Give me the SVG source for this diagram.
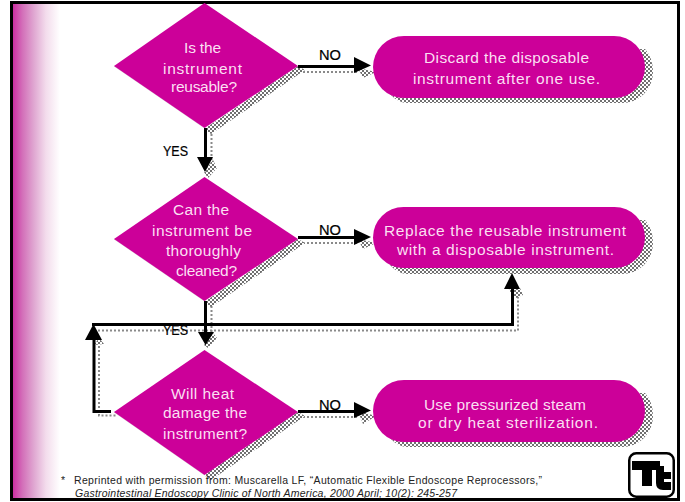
<svg xmlns="http://www.w3.org/2000/svg" width="685" height="502" viewBox="0 0 685 502">
<style>
.t{font-family:"Liberation Sans",Arial,sans-serif;font-size:15.500px;fill:#fbdff2}
.l{font-family:"Liberation Sans",Arial,sans-serif;font-size:15px;fill:#000;stroke:#000;stroke-width:.2}
.f{font-family:"Liberation Sans",Arial,sans-serif;font-size:10.500px;fill:#222}
.i{font-style:italic}
.node{fill:#cc0099}
.shadow{fill:url(#chk)}
.halo{fill:none;stroke:#e0e0e0;stroke-width:1}
.c{fill:none;stroke:#000;stroke-width:3}
.s{fill:none;stroke:#8a8a8a;stroke-width:2;stroke-dasharray:2 2}
</style>
<defs>
<pattern id="chk" width="4" height="4" patternUnits="userSpaceOnUse">
<rect width="4" height="4" fill="#fff"/><rect width="2" height="2" fill="#707070"/><rect x="2" y="2" width="2" height="2" fill="#707070"/>
</pattern>
<linearGradient id="side" x1="0" x2="1" y1="0" y2="0">
<stop offset="0" stop-color="#cc2fa3"/><stop offset=".2" stop-color="#d36fb9"/><stop offset=".45" stop-color="#e0a8d2"/><stop offset=".7" stop-color="#f3dcec"/><stop offset="1" stop-color="#fff"/>
</linearGradient>
<path id="pillshadow" class="shadow" d="M636 13H645Q653 22 653 36A31 31 0 0 1 622 67H408Q398 67 390 58Z"/>
<path id="diashadow" class="shadow" d="M298 0L305 4L211 68L204 63Z"/>
</defs>
<rect width="685" height="502" fill="#fff"/>
<rect x="13" y="4" width="47" height="495" fill="url(#side)"/>
<rect x="11.500" y="2.500" width="667" height="497" fill="none" stroke="#000" stroke-width="3"/>

<g id="connector-shadows">
<path class="s" d="M303 72H358M211.500 134V165M303 243H358M211.500 306V338M98 330.500H518V292M99 342V415.500H116M303 417H358"/>
<path class="shadow" d="M358 68L376 72L363 78ZM204 172L213 160L217 168L208 178ZM358 239L376 243L363 249ZM204 345L213 333L217 338L208 348ZM94 345L99 338L104 344ZM508 290L520 288L523 295L516 298ZM358 411L376 416L363 424Z"/>
</g>

<g id="node-q1"><use href="#diashadow" y="66"/><path class="halo" d="M114 66L204.500 128"/><path class="node" d="M204.500 3L298 66L204.500 128L114 66Z"/>
<text class="t" x="184" y="52.500" textLength="37">Is the</text><text class="t" x="163" y="74" textLength="79">instrument</text><text class="t" x="171" y="92" textLength="66">reusable?</text></g>

<g id="node-q2"><use href="#diashadow" y="239"/><path class="halo" d="M114 239L204.500 301"/><path class="node" d="M204.500 177L298 239L204.500 301L114 239Z"/>
<text class="t" x="173" y="215" textLength="56">Can the</text><text class="t" x="152" y="236" textLength="100">instrument be</text><text class="t" x="166" y="256" textLength="75">thoroughly</text><text class="t" x="176" y="276" textLength="61">cleaned?</text></g>

<g id="node-q3"><use href="#diashadow" y="412"/><path class="halo" d="M114 412L204.500 475"/><path class="node" d="M204.500 350L298 412L204.500 475L114 412Z"/>
<text class="t" x="171" y="399" textLength="63">Will heat</text><text class="t" x="163" y="418" textLength="84">damage the</text><text class="t" x="163" y="439" textLength="84">instrument?</text></g>

<g id="node-a1"><use href="#pillshadow" y="36"/><rect class="node" x="373" y="36" width="272" height="62" rx="31"/>
<text class="t" x="424" y="63" textLength="165">Discard the disposable</text><text class="t" x="413" y="84" textLength="187">instrument after one use.</text></g>

<g id="node-a2"><use href="#pillshadow" y="207"/><rect class="node" x="373" y="207" width="272" height="61" rx="30.500"/>
<text class="t" x="384" y="236" textLength="242">Replace the reusable instrument</text><text class="t" x="397" y="255" textLength="217">with a disposable instrument.</text></g>

<g id="node-a3"><use href="#pillshadow" y="380"/><rect class="node" x="373" y="380" width="272" height="62" rx="31"/>
<text class="t" x="424" y="410" textLength="162">Use pressurized steam</text><text class="t" x="418" y="428" textLength="180">or dry heat sterilization.</text></g>

<g id="connectors">
<path class="c" d="M298 66.500H356M205.500 128V159M298 237.500H356M205.500 301V334M92 324.500H512.500V288M111 411.500H94V338M298 411.500H356"/>
<path d="M354 57L371 65.500L354 73ZM197 157H213L205 172ZM354 229L371 237L354 245ZM198 332H214L205.500 345ZM85 340H102L93.500 324ZM504 289H520L512 273ZM354 402L371 410.500L354 418Z"/>
</g>

<g id="labels">
<text class="l" x="319" y="60" textLength="22" lengthAdjust="spacingAndGlyphs">NO</text><text class="l" x="319" y="235" textLength="22" lengthAdjust="spacingAndGlyphs">NO</text><text class="l" x="319" y="410" textLength="22" lengthAdjust="spacingAndGlyphs">NO</text>
<text class="l" x="163" y="156" textLength="25" lengthAdjust="spacingAndGlyphs">YES</text><text class="l" x="163" y="335" textLength="25" lengthAdjust="spacingAndGlyphs">YES</text>
</g>

<g id="footnote">
<text class="f" x="61" y="484">*</text>
<text class="f" x="74" y="484" textLength="468">Reprinted with permission from: Muscarella LF, “Automatic Flexible Endoscope Reprocessors,”</text>
<text class="f i" x="75" y="497" textLength="382">Gastrointestinal Endoscopy Clinic of North America, 2000 April; 10(2): 245-257</text>
</g>

<g id="logo">
<rect x="629.250" y="453.250" width="44.500" height="43.500" rx="7" fill="#fff" stroke="#000" stroke-width="2.500"/>
<path d="M632 461H660V470H652V486H642V470H632Z" fill="#000"/>
<path d="M656 466H664V472H671V479H664V482H671V490H663Q656 490 656 483Z" fill="#000"/>
</g>
</svg>
